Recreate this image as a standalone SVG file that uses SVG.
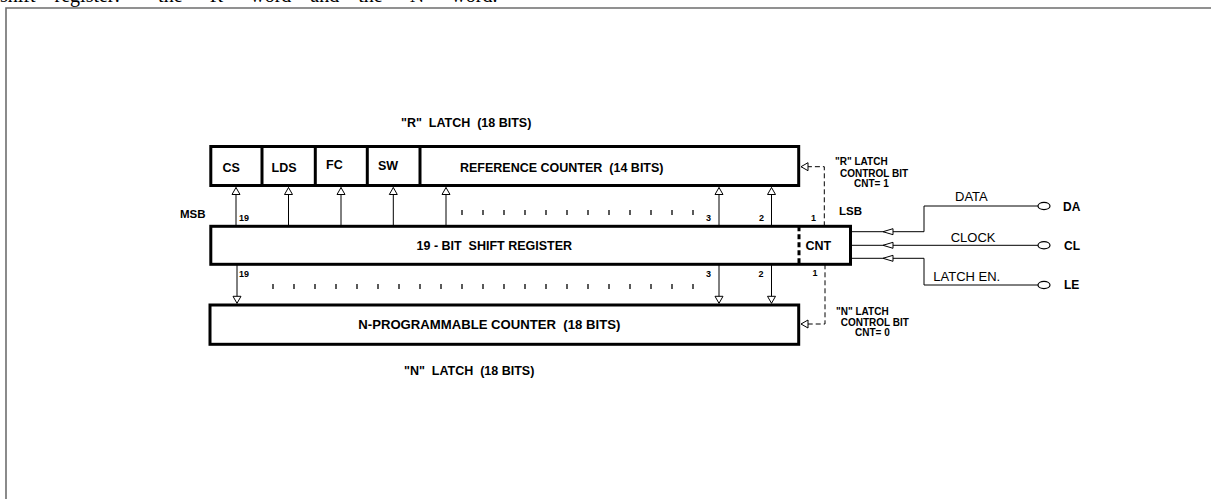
<svg xmlns="http://www.w3.org/2000/svg" width="1211" height="499" viewBox="0 0 1211 499">
<style>
text{font-family:"Liberation Sans",Arial,sans-serif;fill:#000;white-space:pre}
.bx{fill:#fff;stroke:#000;stroke-width:3}
.dv{stroke:#000;stroke-width:3}
.lb{font-weight:bold;font-size:12.5px}
.sm{font-weight:bold;font-size:9px}
.ct{font-weight:bold;font-size:10px}
.ms{font-weight:bold;font-size:11.5px}
.pin{font-weight:bold;font-size:12px}
.sig{font-size:13px}
.ttl{font-weight:bold;font-size:12.5px}
.ln{fill:none;stroke:#000;stroke-width:1}
.ds{fill:none;stroke:#000;stroke-width:1;stroke-dasharray:5 3}
.tk{stroke:#000;stroke-width:1.3}
.pad{fill:#fff;stroke:#000;stroke-width:1.2}
.frame{fill:none;stroke:#6e6e6e;stroke-width:1.6}
.cap{font-family:"Liberation Serif","Times New Roman",serif;font-size:20px}
</style>
<defs>
<marker id="ah" viewBox="-1 -1 9 10" refX="7" refY="4" markerWidth="9" markerHeight="10" markerUnits="userSpaceOnUse" orient="auto">
<path d="M0,0 L7,4 L0,8 Z" fill="#fff" stroke="#000" stroke-width="1"/>
</marker>
<marker id="ah2" viewBox="-1 -1 12 8" refX="10" refY="3" markerWidth="12" markerHeight="8" markerUnits="userSpaceOnUse" orient="auto">
<path d="M0,0 L10,3 L0,6 Z" fill="#fff" stroke="#000" stroke-width="1"/>
</marker>
</defs>
<rect width="1211" height="499" fill="#fff"/>
<text class="cap" x="0" y="2" word-spacing="14">shift register:  the "R" word and the "N" word.</text>
<path class="frame" d="M6,499 V8 H1211"/>

<text class="ttl" x="401" y="127">"R"  LATCH  (18 BITS)</text>
<text class="ttl" x="404" y="375">"N"  LATCH  (18 BITS)</text>

<g id="r-latch">
<rect class="bx" x="210.8" y="146.5" width="587.9" height="39"/>
<line class="dv" x1="262" y1="146.5" x2="262" y2="185.5"/>
<line class="dv" x1="315.3" y1="146.5" x2="315.3" y2="185.5"/>
<line class="dv" x1="367.3" y1="146.5" x2="367.3" y2="185.5"/>
<line class="dv" x1="420" y1="146.5" x2="420" y2="185.5"/>
<text class="lb" x="222.5" y="171.7">CS</text>
<text class="lb" x="271.5" y="171.7">LDS</text>
<text class="lb" x="326" y="169">FC</text>
<text class="lb" x="378" y="170">SW</text>
<text class="lb" x="460" y="171.7">REFERENCE COUNTER  (14 BITS)</text>
</g>

<g id="shift-register">
<rect class="bx" x="210.8" y="226.3" width="639.7" height="38"/>
<line x1="799" y1="226.3" x2="799" y2="264.3" stroke="#000" stroke-width="3" stroke-dasharray="5 3"/>
<text class="lb" x="416.5" y="250">19 - BIT  SHIFT REGISTER</text>
<text class="lb" x="805.5" y="250">CNT</text>
</g>

<g id="n-latch">
<rect class="bx" x="210" y="305" width="588.7" height="39.3"/>
<text class="lb" x="358.3" y="329" textLength="262" lengthAdjust="spacingAndGlyphs">N-PROGRAMMABLE COUNTER  (18 BITS)</text>
</g>

<g id="labels">
<text class="ms" x="180" y="218.3">MSB</text>
<text class="ms" x="839" y="215">LSB</text>
<text class="sm" x="239" y="220.7">19</text>
<text class="sm" x="706" y="220.7">3</text>
<text class="sm" x="759" y="220.7">2</text>
<text class="sm" x="811" y="220.7">1</text>
<text class="sm" x="239" y="276.7">19</text>
<text class="sm" x="706" y="276.7">3</text>
<text class="sm" x="758.5" y="276.7">2</text>
<text class="sm" x="812.5" y="276.2">1</text>
<text class="ct" x="835" y="165">"R" LATCH</text>
<text class="ct" x="840" y="176.7">CONTROL BIT</text>
<text class="ct" x="854" y="186.7">CNT= 1</text>
<text class="ct" x="836" y="315">"N" LATCH</text>
<text class="ct" x="840.7" y="325.7">CONTROL BIT</text>
<text class="ct" x="855" y="336">CNT= 0</text>
</g>

<g id="pin-da">
<ellipse class="pad" cx="1044" cy="206" rx="6" ry="3.6"/>
<text class="pin" x="1063" y="210.7">DA</text>
</g>
<g id="pin-cl">
<ellipse class="pad" cx="1044" cy="245.3" rx="6" ry="3.6"/>
<text class="pin" x="1064" y="249.5">CL</text>
</g>
<g id="pin-le">
<ellipse class="pad" cx="1044" cy="285" rx="6" ry="3.6"/>
<text class="pin" x="1064" y="289.3">LE</text>
</g>

<g id="connectors">
<path class="ln" d="M236,226.3 V187.5" marker-end="url(#ah)"/>
<path class="ln" d="M288.5,226.3 V187.5" marker-end="url(#ah)"/>
<path class="ln" d="M341,226.3 V187.5" marker-end="url(#ah)"/>
<path class="ln" d="M393.3,226.3 V187.5" marker-end="url(#ah)"/>
<path class="ln" d="M446,226.3 V187.5" marker-end="url(#ah)"/>
<path class="ln" d="M719,226.3 V187.5" marker-end="url(#ah)"/>
<path class="ln" d="M771.5,226.3 V187.5" marker-end="url(#ah)"/>
<path class="ln" d="M237,264.3 V303.3" marker-end="url(#ah)"/>
<path class="ln" d="M719,264.3 V303.3" marker-end="url(#ah)"/>
<path class="ln" d="M771.5,264.3 V303.3" marker-end="url(#ah)"/>
<path class="ds" d="M824.3,226.3 V166.7 H801" marker-end="url(#ah)"/>
<path class="ds" d="M825,264.3 V324 H801" marker-end="url(#ah)"/>
<g class="tk">
<line x1="462" y1="210" x2="462" y2="215"/><line x1="483" y1="210" x2="483" y2="215"/><line x1="504" y1="210" x2="504" y2="215"/><line x1="525" y1="210" x2="525" y2="215"/><line x1="546" y1="210" x2="546" y2="215"/><line x1="567" y1="210" x2="567" y2="215"/><line x1="588" y1="210" x2="588" y2="215"/><line x1="609" y1="210" x2="609" y2="215"/><line x1="630" y1="210" x2="630" y2="215"/><line x1="651" y1="210" x2="651" y2="215"/><line x1="672" y1="210" x2="672" y2="215"/><line x1="693" y1="210" x2="693" y2="215"/>
<line x1="273" y1="284" x2="273" y2="289"/><line x1="294" y1="284" x2="294" y2="289"/><line x1="315" y1="284" x2="315" y2="289"/><line x1="336" y1="284" x2="336" y2="289"/><line x1="357" y1="284" x2="357" y2="289"/><line x1="378" y1="284" x2="378" y2="289"/><line x1="399" y1="284" x2="399" y2="289"/><line x1="420" y1="284" x2="420" y2="289"/><line x1="441" y1="284" x2="441" y2="289"/><line x1="462" y1="284" x2="462" y2="289"/><line x1="483" y1="284" x2="483" y2="289"/><line x1="504" y1="284" x2="504" y2="289"/><line x1="525" y1="284" x2="525" y2="289"/><line x1="546" y1="284" x2="546" y2="289"/><line x1="567" y1="284" x2="567" y2="289"/><line x1="588" y1="284" x2="588" y2="289"/><line x1="609" y1="284" x2="609" y2="289"/><line x1="630" y1="284" x2="630" y2="289"/><line x1="651" y1="284" x2="651" y2="289"/><line x1="672" y1="284" x2="672" y2="289"/><line x1="693" y1="284" x2="693" y2="289"/>
</g>
<path class="ln" d="M1038,206 H924 V231.7 H883" marker-end="url(#ah2)"/>
<path class="ln" d="M883,231.7 H852"/>
<path class="ln" d="M1038,245.3 H883" marker-end="url(#ah2)"/>
<path class="ln" d="M883,245.3 H852"/>
<path class="ln" d="M1038,285 H924 V258.3 H883" marker-end="url(#ah2)"/>
<path class="ln" d="M883,258.3 H852"/>
<text class="sig" x="955" y="200.7">DATA</text>
<text class="sig" x="950.7" y="242.3">CLOCK</text>
<text class="sig" x="933.3" y="280.7">LATCH EN.</text>
</g>
</svg>
